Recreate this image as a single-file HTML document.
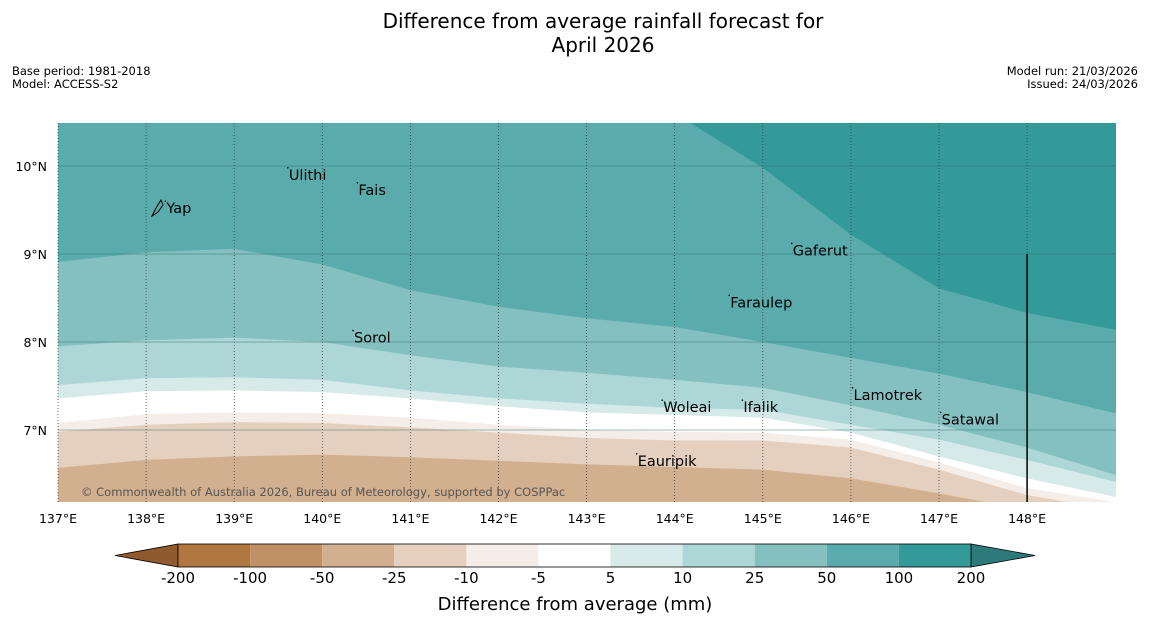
<!DOCTYPE html>
<html><head><meta charset="utf-8"><style>
html,body{margin:0;padding:0;width:1150px;height:644px;overflow:hidden;background:#fff;}
svg{display:block}
</style></head><body>
<svg id="chart" width="1150" height="644" font-family="DejaVu Sans, Liberation Sans, sans-serif">
<rect width="1150" height="644" fill="#fff"/>
<text x="603" y="28" font-size="20" text-anchor="middle">Difference from average rainfall forecast for</text>
<text x="603" y="52" font-size="20" text-anchor="middle">April 2026</text>
<text x="12" y="75" font-size="11.5">Base period: 1981-2018</text>
<text x="12" y="88" font-size="11.5">Model: ACCESS-S2</text>
<text x="1138" y="75" font-size="11.5" text-anchor="end">Model run: 21/03/2026</text>
<text x="1138" y="88" font-size="11.5" text-anchor="end">Issued: 24/03/2026</text>
<defs><clipPath id="mapclip"><rect x="58" y="123" width="1058" height="379"/></clipPath></defs>
<g id="map" clip-path="url(#mapclip)"></g>
<g id="overlay"></g>
<g id="cbar"></g>
<text x="575" y="610" font-size="18" text-anchor="middle">Difference from average (mm)</text>
</svg>
<script>
const lons=[137,138,139,140,141,142,143,144,145,146,147,148,149];
const contourLevels=[100,50,25,10,5,-5,-10,-25];
const c100=[10.6,10.6,10.6,10.6,10.6,10.6,10.6,10.6,9.98,9.22,8.61,8.33,8.14];
const c50=[8.91,9.02,9.06,8.88,8.59,8.40,8.27,8.17,8.00,7.82,7.64,7.43,7.19];
const c25=[7.95,8.02,8.05,8.00,7.85,7.72,7.65,7.57,7.48,7.28,7.06,6.80,6.49];
const c10=[7.51,7.59,7.60,7.57,7.45,7.36,7.30,7.25,7.23,7.06,6.89,6.66,6.41];
const c5=[7.36,7.44,7.45,7.43,7.36,7.27,7.20,7.17,7.14,6.97,6.70,6.45,6.24];
const cm5=[7.08,7.18,7.20,7.19,7.14,7.06,7.00,6.98,6.97,6.89,6.63,6.34,6.18];
const cm10=[6.98,7.06,7.09,7.08,7.03,6.97,6.91,6.88,6.88,6.80,6.55,6.26,6.09];
const cm25=[6.57,6.66,6.70,6.72,6.69,6.65,6.61,6.58,6.55,6.45,6.28,6.09,5.98];
const cbLabels=["-200","-100","-50","-25","-10","-5","5","10","25","50","100","200"];
const cbColors=["#b07840","#c09165","#d2b08f","#e5d0bf","#f5ede8","#ffffff","#d6eaea","#add6d6","#84c0c0","#5aabab","#339999"];
const places=["Ulithi","Fais","Yap","Gaferut","Faraulep","Sorol","Lamotrek","Satawal","Woleai","Ifalik","Eauripik"];
const placeLon=[139.62,140.41,138.23,145.34,144.63,140.36,146.03,147.03,143.87,144.78,143.58];
const placeLat=[9.9,9.73,9.52,9.04,8.45,8.05,7.4,7.12,7.26,7.26,6.65];
const lonTicks=[137,138,139,140,141,142,143,144,145,146,147,148];
const latTicks=[10,9,8,7];
const NS="http://www.w3.org/2000/svg";
const X=lon=>58+(lon-137)*88.1;
const Y=lat=>166-(lat-10)*88;
function mk(tag,attrs,parent){const e=document.createElementNS(NS,tag);for(const k in attrs)e.setAttribute(k,attrs[k]);parent.appendChild(e);return e;}
const map=document.getElementById('map');
let bg=mk('rect',{x:58,y:123,width:1058,height:379,fill:'#339999'},map);


const contours=[c100,c50,c25,c10,c5,cm5,cm10,cm25];
const bandColors=["#5aabab","#84c0c0","#add6d6","#d6eaea","#ffffff","#f5ede8","#e5d0bf","#d2b08f"];
const bandNames=["band-50-100","band-25-50","band-10-25","band-5-10","band-neutral","band-minus5-minus10","band-minus10-minus25","band-minus25-minus50"];
contours.forEach((c,i)=>{
  let d='M'+X(lons[0])+','+Y(c[0]);
  for(let j=1;j<lons.length;j++){
    d+=' L'+X(lons[j])+','+Y(c[j]);
  }
  d+=' L1200,'+Y(c[c.length-1])+' L1200,700 L0,700 L0,'+Y(c[0])+' Z';
  const p=mk('path',{d:d,fill:bandColors[i]},map);
  
  
});
const ov=document.getElementById('overlay');
lonTicks.forEach(l=>{
  const g=mk('line',{x1:X(l),x2:X(l),y1:123,y2:502,stroke:'#333','stroke-width':0.7,'stroke-dasharray':'1,2'},ov);
  
  
  const t=mk('text',{x:X(l),y:523,'font-size':12.5,'text-anchor':'middle'},ov);
  t.textContent=l+'°E';
  
  
});
latTicks.forEach(l=>{
  const g=mk('line',{x1:58,x2:1116,y1:Y(l),y2:Y(l),stroke:'#2f6f6f','stroke-width':0.8,opacity:0.6},ov);
  
  
  const t=mk('text',{x:47,y:Y(l)+5,'font-size':12.5,'text-anchor':'end'},ov);
  t.textContent=l+'°N';
  
  
});
let vl=mk('line',{x1:X(148),x2:X(148),y1:Y(9),y2:502,stroke:'#000','stroke-width':1.5},ov);


places.forEach((p,i)=>{
  const t=mk('text',{x:X(placeLon[i]),y:Y(placeLat[i])+5,'font-size':14.5},ov);
  t.textContent=p;
  
  
  const d=mk('circle',{cx:X(placeLon[i])-1,cy:Y(placeLat[i])-7,r:0.8,fill:'#000'},ov);
  
  
});
let yap=mk('path',{d:'M152,216 L156,208 L161,200 L163,205 L158,212 Z',fill:'none',stroke:'#000','stroke-width':1},ov);


let cp=mk('text',{x:81,y:496,'font-size':11.5,fill:'#555'},ov);
cp.textContent='© Commonwealth of Australia 2026, Bureau of Meteorology, supported by COSPPac';


const cb=document.getElementById('cbar');
const cx0=178,cw=(971-178)/cbColors.length,cy=544,ch=23;
let tl=mk('polygon',{points:`115,555.5 ${cx0},${cy} ${cx0},${cy+ch}`,fill:'#8f5a2d',stroke:'#000','stroke-width':0.8},cb);


let tr=mk('polygon',{points:`1035,555.5 971,${cy} 971,${cy+ch}`,fill:'#2d7a7a',stroke:'#000','stroke-width':0.8},cb);


cbColors.forEach((c,i)=>{
  const r=mk('rect',{x:cx0+i*cw,y:cy,width:cw,height:ch,fill:c},cb);
  
  
});
let ob=mk('rect',{x:cx0,y:cy,width:971-cx0,height:ch,fill:'none',stroke:'#000','stroke-width':0.8},cb);


cbLabels.forEach((l,i)=>{
  const t=mk('text',{x:cx0+i*cw,y:583,'font-size':15,'text-anchor':'middle'},cb);
  t.textContent=l;
  
  
});
</script>
</body></html>
